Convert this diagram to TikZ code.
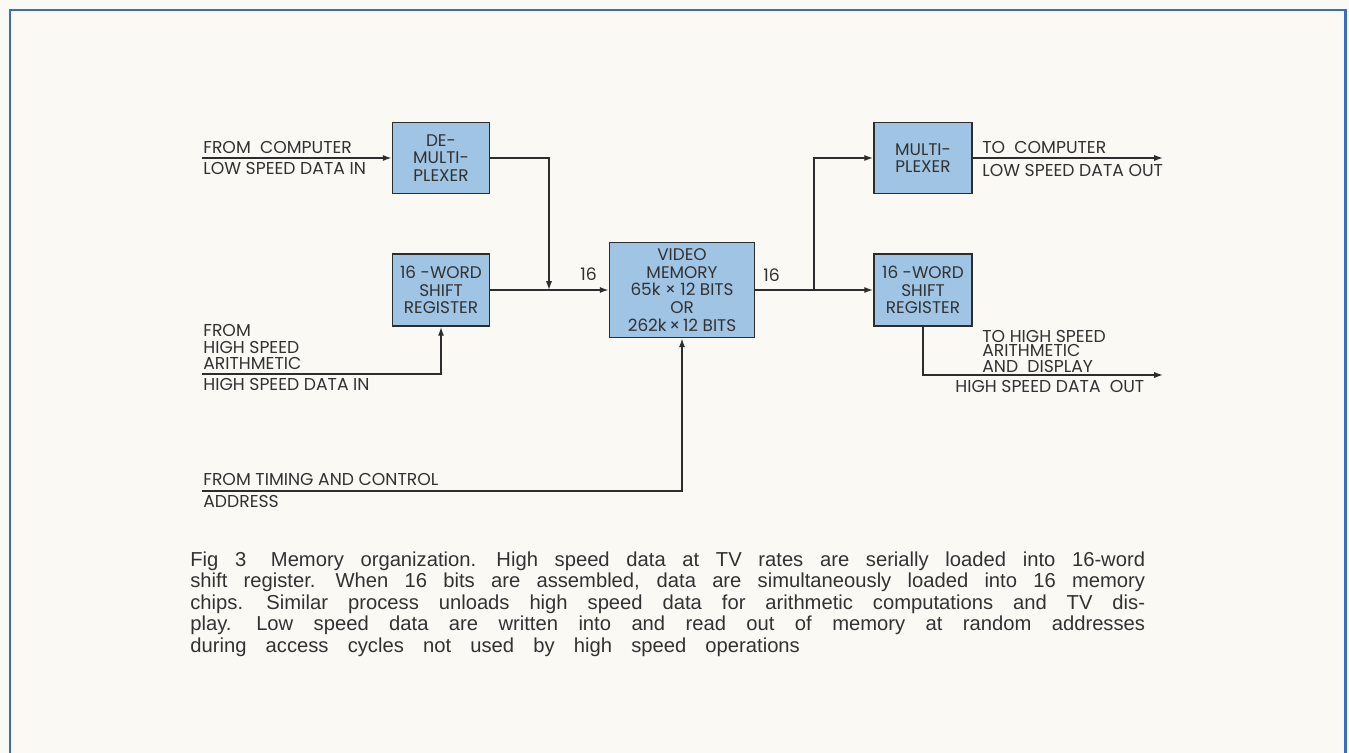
\documentclass[tikz,border=0pt]{standalone}
\usepackage{fontspec}
\setmainfont{Liberation Sans}
\newfontfamily\labfont{Poppins}
\usepackage{xcolor}
\usetikzlibrary{arrows.meta}
\definecolor{figpaper}{RGB}{250,249,244}
\definecolor{figline}{RGB}{45,45,45}
\definecolor{figfill}{RGB}{160,196,228}
\definecolor{figframe}{RGB}{58,108,196}
\definecolor{figtext}{RGB}{50,50,50}
\newcommand\capwide{\spaceskip=0.95em plus 0.3em minus 0.4em\relax}
\tikzset{
  blk/.style ={draw=figline, fill=figfill, line width=1.1pt, align=center, inner sep=1pt,
               font=\labfont\fontsize{9.6}{10}\selectfont, text=figtext},
  ln/.style  ={draw=figline, line width=0.8pt},
  ptr/.style ={ln, -{Latex[length=5pt,width=3.5pt]}},
  lab/.style ={font=\labfont\fontsize{9.8}{9.5}\selectfont, text=figtext, inner sep=0pt, align=left},
  figcap/.style ={font=\fontsize{11.5}{12.3}\selectfont,
               text=figtext, inner sep=0pt, text width=19.1cm, align=justify},
}

\begin{document}
\begin{tikzpicture}[x=0.02cm, y=-0.02cm]
  \useasboundingbox (0,0) rectangle (1349,753);
  \fill[figpaper] (0,0) rectangle (1349,753);
  \begin{scope}
    \clip (0,0) rectangle (1349,753);
    \draw[draw=figframe, line width=1.7pt] (10,10) rectangle (1345,800);
  \end{scope}
  % blocks
  \node[blk, minimum width=1.94cm, minimum height=1.42cm] (dmx) at (441,158) {DE-\\MULTI-\\PLEXER};
  \node[blk, minimum width=1.94cm, minimum height=1.44cm] (srl) at (441,290) {16 -WORD\\SHIFT\\REGISTER};
  \node[blk, minimum width=2.9cm, minimum height=1.9cm] (vm) at (682,290) {VIDEO\\MEMORY\\65k × 12 BITS\\OR\\262k\,×\,12 BITS};
  \node[blk, minimum width=1.96cm, minimum height=1.42cm] (mux) at (923,158) {MULTI-\\PLEXER};
  \node[blk, minimum width=1.96cm, minimum height=1.44cm] (srr) at (923,290) {16 -WORD\\SHIFT\\REGISTER};
  % free ends
  \coordinate (in1) at (202,158);
  \coordinate (in2) at (202,374);
  \coordinate (in3) at (202,491);
  \coordinate (j1) at (549,290);
  \coordinate (j2) at (814,290);
  \coordinate (out1) at (1163,158);
  \coordinate (out2) at (1163,375);
  % connectors
  \draw[ptr] (in1) -- (dmx.west);
  \draw[ptr] (dmx.east) -| (j1);
  \draw[ptr] (srl.east) -- (vm.west);
  \draw[ptr] (in2) -| (srl.south);
  \draw[ptr] (in3) -| (vm.south);
  \draw[ptr] (vm.east) -- (srr.west);
  \draw[ptr] (j2) |- (mux.west);
  \draw[ptr] (mux.east) -- (out1);
  \draw[ptr] (srr.south) |- (out2);
  % labels
  \node[lab, anchor=base west] (l1) at (203,154) {FROM\ \ COMPUTER};
  \node[lab, anchor=base west] (l2) at (203,175) {LOW SPEED DATA IN};
  \node[lab, anchor=base west] (l3) at (203,337) {FROM};
  \node[lab, anchor=base west] (l4) at (203,353) {HIGH SPEED};
  \node[lab, anchor=base west] (l5) at (203,369) {ARITHMETIC};
  \node[lab, anchor=base west] (l6) at (203,390) {HIGH SPEED DATA IN};
  \node[lab, anchor=base west] (l7) at (203,485) {FROM TIMING AND CONTROL};
  \node[lab, anchor=base west] (l8) at (203,507) {ADDRESS};
  \node[lab, anchor=base west] (n1) at (580,280) {16};
  \node[lab, anchor=base west] (n2) at (763,281) {16};
  \node[lab, anchor=base west] (r1) at (982,154) {TO\ \ COMPUTER};
  \node[lab, anchor=base west] (r2) at (982,177) {LOW SPEED DATA OUT};
  \node[lab, anchor=base west] (r3) at (982,342) {TO HIGH SPEED};
  \node[lab, anchor=base west] (r4) at (982,357) {ARITHMETIC};
  \node[lab, anchor=base west] (r5) at (982,372) {AND\ \ DISPLAY};
  \node[lab, anchor=base west] (r6) at (955,392) {HIGH SPEED DATA\ \ OUT};
  % caption
  \node[figcap, anchor=base west] (fig) at (190,566) {\capwide Fig 3\hspace{14pt}Memory organization. High speed data at TV rates are serially loaded into 16-word\linebreak
    shift register. When 16 bits are assembled, data are simultaneously loaded into 16 memory\linebreak
    chips. Similar process unloads high speed data for arithmetic computations and TV dis-\linebreak
    play. Low speed data are written into and read out of memory at random addresses\linebreak
    during access cycles not used by high speed operations};
\end{tikzpicture}
\end{document}
